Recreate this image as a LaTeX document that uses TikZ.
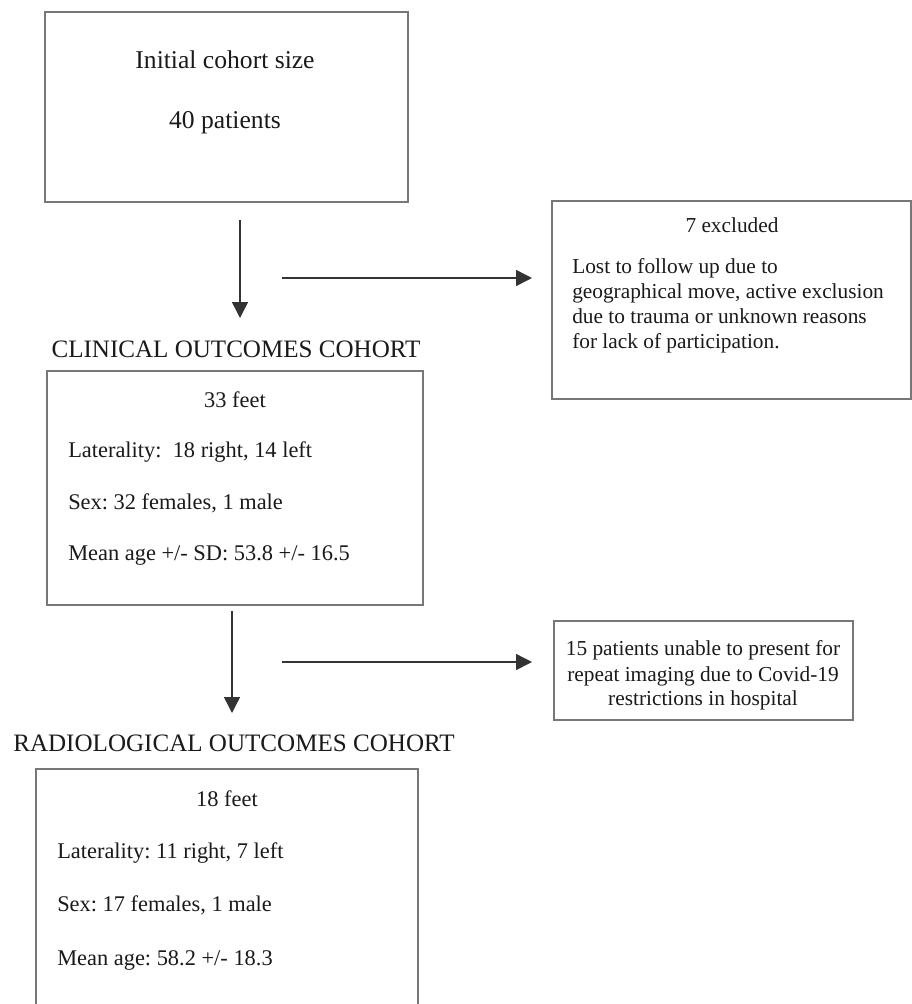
\documentclass[tikz,border=0pt]{standalone}
\usepackage{fontspec}
\setmainfont{Liberation Serif}
\usetikzlibrary{arrows.meta}
\frenchspacing
\definecolor{boxgray}{HTML}{777777}
\definecolor{inkc}{HTML}{1A1A1A}
\definecolor{arrowc}{HTML}{333333}
\tikzset{
  boxnode/.style={draw=boxgray, line width=1.1pt, inner sep=0pt, rectangle},
  txtbase/.style={text=inkc, inner sep=0pt, text height=0.7em, text depth=0.22em, yshift=-2.4pt},
  bigtxt/.style={txtbase, font=\fontsize{19.2pt}{23pt}\selectfont},
  headtxt/.style={txtbase, font=\fontsize{18.8pt}{22pt}\selectfont},
  midtxt/.style={txtbase, font=\fontsize{16.8pt}{20pt}\selectfont},
  smalltxt/.style={txtbase, font=\fontsize{16pt}{19pt}\selectfont},
  flowarrow/.style={draw=arrowc, line width=1.1pt, -{Triangle[length=12pt,width=12pt]}}
}
\begin{document}
\begin{tikzpicture}[x=0.75pt,y=-0.75pt]
\clip (0,0) rectangle (912,1004);
\fill[white] (0,0) rectangle (912,1004);

% boxes
\node[boxnode, minimum width=272.25pt, minimum height=142.5pt] (b1) at (226.5,107) {};
\node[boxnode, minimum width=269.25pt, minimum height=148.5pt] (b2) at (731.5,300) {};
\node[boxnode, minimum width=282pt, minimum height=175.5pt] (b3) at (235,488) {};
\node[boxnode, minimum width=224.25pt, minimum height=74.25pt] (b4) at (703.5,670.5) {};
\node[boxnode, minimum width=286.5pt, minimum height=196.5pt] (b5) at (227,900) {};

% box 1 text
\node[bigtxt] (t1a) at (225,62) {Initial cohort size};
\node[bigtxt] (t1b) at (225,122) {40 patients};

% box 2 text
\node[smalltxt] (t2a) at (732,226.5) {7 excluded};
\node[smalltxt, anchor=west] (t2b) at (572,267) {Lost to follow up due to};
\node[smalltxt, anchor=west] (t2c) at (572,292) {geographical move, active exclusion};
\node[smalltxt, anchor=west] (t2d) at (572,317.5) {due to trauma or unknown reasons};
\node[smalltxt, anchor=west] (t2e) at (572,342) {for lack of participation.};

% heading 1
\node[headtxt] (h1) at (236,351.5) {CLINICAL OUTCOMES COHORT};

% box 3 text
\node[midtxt] (t3a) at (235,401.5) {33 feet};
\node[midtxt, anchor=west] (t3b) at (68,451) {Laterality:\ \ 18 right, 14 left};
\node[midtxt, anchor=west] (t3c) at (68,503) {Sex: 32 females, 1 male};
\node[midtxt, anchor=west] (t3d) at (68,554) {Mean age +/- SD: 53.8 +/- 16.5};

% box 4 text
\node[smalltxt] (t4a) at (703,649) {15 patients unable to present for};
\node[smalltxt] (t4b) at (703,675) {repeat imaging due to Covid-19};
\node[smalltxt] (t4c) at (703,699) {restrictions in hospital};

% heading 2
\node[headtxt] (h2) at (234,745.5) {RADIOLOGICAL OUTCOMES COHORT};

% box 5 text
\node[midtxt] (t5a) at (227,800.5) {18 feet};
\node[midtxt, anchor=west] (t5b) at (57,852) {Laterality: 11 right, 7 left};
\node[midtxt, anchor=west] (t5c) at (57,905) {Sex: 17 females, 1 male};
\node[midtxt, anchor=west] (t5d) at (57,959) {Mean age: 58.2 +/- 18.3};

% arrow endpoints
\coordinate (a1s) at (240,220);
\coordinate (a1e) at (240,318);
\coordinate (a2s) at (282,278);
\coordinate (a2e) at (532,278);
\coordinate (a3s) at (232,611);
\coordinate (a3e) at (232,713);
\coordinate (a4s) at (282,662);
\coordinate (a4e) at (532,662);

\draw[flowarrow] (a1s) -- (a1e);
\draw[flowarrow] (a2s) -- (a2e);
\draw[flowarrow] (a3s) -- (a3e);
\draw[flowarrow] (a4s) -- (a4e);
\end{tikzpicture}
\end{document}
